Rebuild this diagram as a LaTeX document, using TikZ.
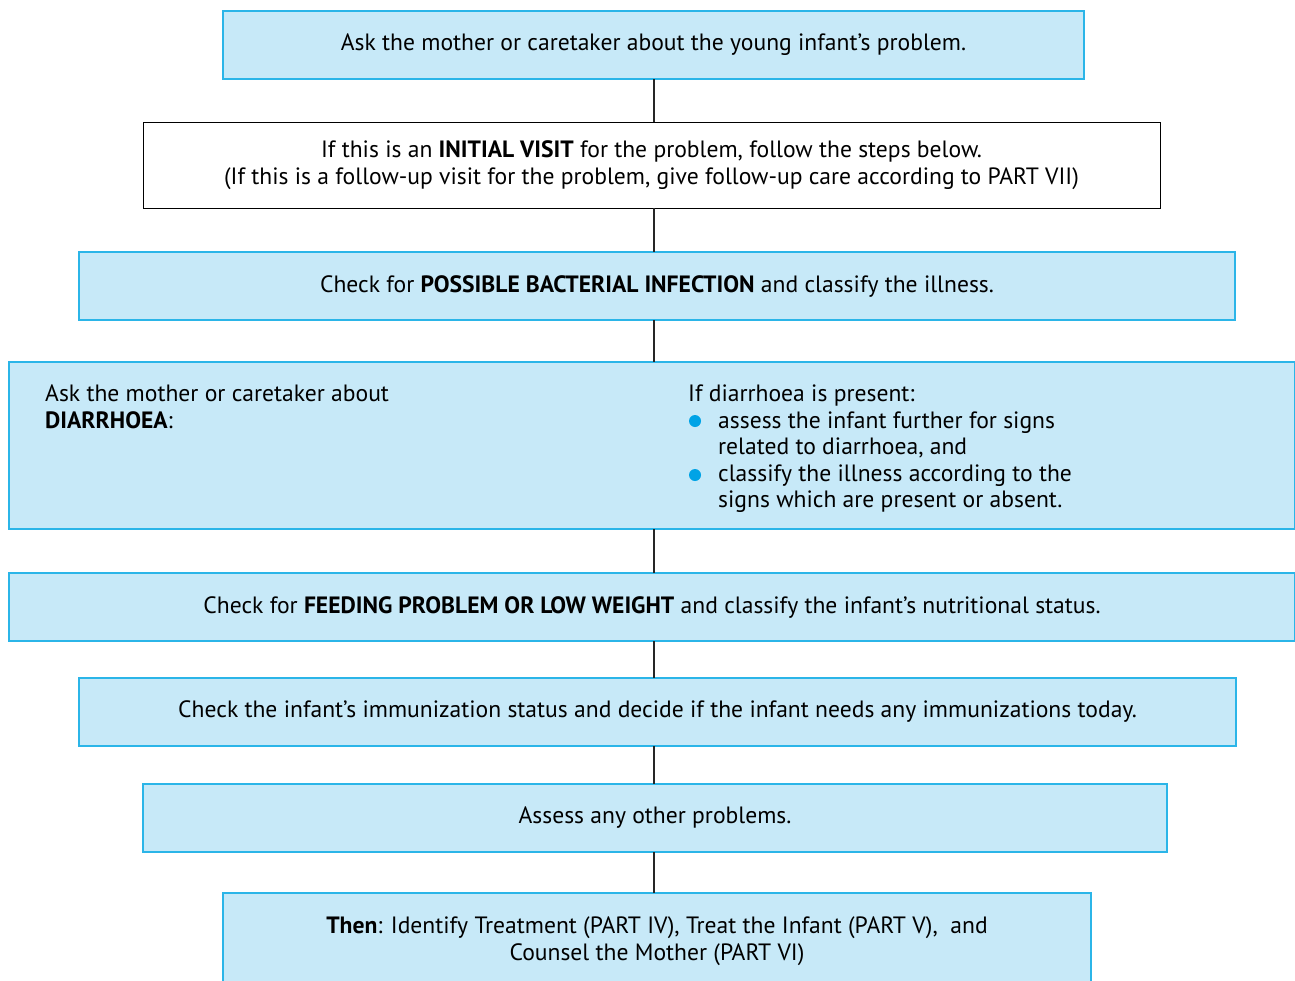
\documentclass[tikz,border=0pt]{standalone}
\usepackage{fontspec}
\setmainfont{PT Sans}
\usepackage{tikz}
\usetikzlibrary{positioning}
\definecolor{boxfill}{HTML}{C7E9F8}
\definecolor{boxline}{HTML}{2BB5E8}
\definecolor{dotblue}{HTML}{00A3E6}
\tikzstyle{bluebox} = [rectangle, minimum height=68pt, text centered, draw=boxline, fill=boxfill, line width=1.2pt, inner sep=0pt, outer sep=0pt]
\tikzstyle{whitebox} = [rectangle, minimum height=86pt, text centered, align=center, draw=black, fill=white, line width=1pt, inner sep=0pt, outer sep=0pt]
\tikzstyle{textblock} = [anchor=north west, align=left, inner sep=0pt]
\tikzstyle{link} = [line width=2pt, black!85]

\begin{document}
\begin{tikzpicture}[x=1pt, y=-1pt, font=\fontsize{23.6}{26.5}\selectfont]
        \useasboundingbox (0,0) rectangle (1295,980);

        \node[bluebox, minimum width=861pt]                                  (ask)    at (653.5,45) {Ask the mother or caretaker about the young infant’s problem.};
        \node[whitebox, minimum width=1017pt, below=43pt of ask, xshift=-2pt] (visit)  {If this is an \textbf{INITIAL VISIT} for the problem, follow the steps below.\\(If this is a follow-up visit for the problem, give follow-up care according to PART VII)};
        \node[bluebox, minimum width=1156pt, below=44pt of visit, xshift=5.5pt] (infect) {Check for \textbf{POSSIBLE BACTERIAL INFECTION} and classify the illness.};
        \node[bluebox, minimum width=1286pt, minimum height=167pt, below=42pt of infect, xshift=-5pt] (diarr) {};
        \node[bluebox, minimum width=1286pt, below=44pt of diarr]             (feed)   {Check for \textbf{FEEDING PROBLEM OR LOW WEIGHT} and classify the infant’s nutritional status.};
        \node[bluebox, minimum width=1157pt, below=37pt of feed, xshift=5.5pt] (immun)  {Check the infant’s immunization status and decide if the infant needs any immunizations today.};
        \node[bluebox, minimum width=1024pt, below=38pt of immun, xshift=-2.5pt] (other)  {Assess any other problems.};
        \node[bluebox, minimum width=868pt, minimum height=96pt, below=41pt of other, xshift=2pt, align=center] (then) {\textbf{Then}: Identify Treatment (PART IV), Treat the Infant (PART V),~ and\\Counsel the Mother (PART VI)};

        % text inside the diarrhoea box
        \node[textblock] (diarrask)   at ([xshift=36pt, yshift=-23pt]diarr.north west) {Ask the mother or caretaker about\\\textbf{DIARRHOEA}:};
        \node[textblock] (diarrsigns) at ([xshift=679pt, yshift=-23pt]diarr.north west) {If diarrhoea is present:\\
            \hspace*{30pt}assess the infant further for signs\\
            \hspace*{30pt}related to diarrhoea, and\\
            \hspace*{30pt}classify the illness according to the\\
            \hspace*{30pt}signs which are present or absent.};
        \fill[dotblue] ([xshift=7pt, yshift=-36pt]diarrsigns.north west) circle (6pt);
        \fill[dotblue] ([xshift=7pt, yshift=-90pt]diarrsigns.north west) circle (6pt);

        \draw[link] (ask.south)               -- (ask.south |- visit.north);
        \draw[link] (ask.south |- visit.south)  -- (ask.south |- infect.north);
        \draw[link] (ask.south |- infect.south) -- (ask.south |- diarr.north);
        \draw[link] (ask.south |- diarr.south)  -- (ask.south |- feed.north);
        \draw[link] (ask.south |- feed.south)   -- (ask.south |- immun.north);
        \draw[link] (ask.south |- immun.south)  -- (ask.south |- other.north);
        \draw[link] (ask.south |- other.south)  -- (ask.south |- then.north);
    \end{tikzpicture}
\end{document}
